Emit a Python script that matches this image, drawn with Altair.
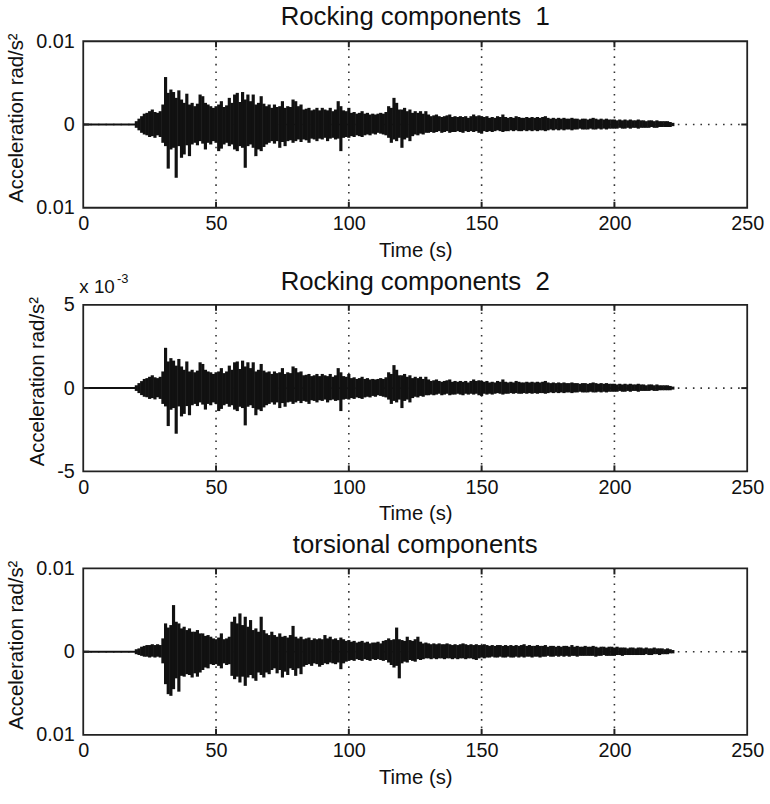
import altair as alt
import pandas as pd

FONT = "Liberation Sans"

# ---------------- data (values in units of 1e-3 rad/s^2) ----------------
time_s = list(range(20, 223))          # seconds, strong-motion part
quiet_start = [0]                      # quiet part before the event
quiet_end = [20]
x_ticks = [0, 50, 100, 150, 200, 250]
x_grid = [50, 100, 150, 200]
titles = ["Rocking components\u00a0 1", "Rocking components\u00a0 2", "torsional components"]

p1_upper = [
    0.4, 0.7, 1.0, 1.3, 1.4, 1.6, 1.8, 1.5, 1.4, 1.6,
    2.4, 5.7, 3.8, 4.2, 3.9, 3.2, 4.1, 3.0, 2.6, 3.7,
    2.4, 2.6, 2.2, 2.5, 3.6, 3.4, 2.6, 2.4, 2.2, 2.0,
    2.2, 2.4, 2.8, 2.1, 2.3, 3.2, 2.6, 3.6, 3.8, 2.7,
    3.9, 3.0, 3.6, 2.8, 3.6, 2.4, 2.6, 3.4, 2.5, 2.2,
    2.4, 2.0, 2.4, 2.1, 2.2, 2.8, 2.0, 2.2, 2.1, 3.0,
    2.8, 2.2, 2.4, 1.8, 1.9, 2.0, 1.7, 1.8, 2.0, 1.7,
    2.0, 1.8, 1.7, 2.0, 1.6, 1.8, 2.8, 2.2, 1.7, 1.6,
    2.0, 1.4, 1.5, 1.3, 1.4, 1.6, 1.3, 1.4, 1.2, 1.3,
    1.2, 1.3, 1.4, 1.3, 1.5, 2.2, 2.0, 3.2, 2.6, 1.8,
    1.8, 2.0, 1.6, 1.8, 1.4, 1.6, 1.4, 1.6, 1.3, 1.6,
    1.2, 1.0, 1.1, 1.2, 1.0, 0.9, 1.0, 1.1, 1.2, 0.9,
    1.0, 0.9, 1.0, 0.9, 1.0, 0.8, 1.0, 1.2, 1.0, 1.1,
    1.0, 0.9, 1.0, 0.8, 0.9, 0.8, 1.0, 0.9, 1.2, 0.9,
    0.8, 0.9, 0.8, 1.0, 0.9, 0.8, 0.8, 0.9, 0.8, 0.9,
    0.8, 0.9, 0.8, 0.9, 1.0, 0.8, 0.7, 0.8, 0.7, 0.8,
    0.7, 0.8, 0.7, 0.7, 0.8, 0.7, 0.7, 0.6, 0.7, 0.7,
    0.6, 0.7, 0.8, 0.7, 0.6, 0.7, 0.6, 0.7, 0.6, 0.6,
    0.6, 0.5, 0.6, 0.5, 0.6, 0.5, 0.6, 0.5, 0.5, 0.6,
    0.5, 0.5, 0.4, 0.5, 0.5, 0.4, 0.5, 0.4, 0.4, 0.4,
    0.4, 0.3, 0.2,
]
p1_lower = [
    -0.4, -0.7, -1.0, -1.2, -1.3, -1.5, -1.4, -1.6, -1.3, -1.5,
    -2.2, -2.6, -5.3, -3.0, -2.8, -6.4, -2.6, -4.0, -3.6, -2.5,
    -3.8, -2.4, -2.2, -2.5, -2.0, -2.3, -3.0, -2.2, -2.4, -2.0,
    -2.2, -3.2, -2.9, -2.4, -2.2, -2.6, -2.4, -3.0, -3.2, -2.6,
    -2.8, -5.2, -2.6, -2.4, -2.8, -3.8, -3.0, -3.2, -2.7, -2.4,
    -2.2, -2.0, -2.3, -2.0, -2.8, -2.1, -2.6, -2.0, -1.9, -2.2,
    -2.0, -1.8, -2.1, -1.8, -1.9, -2.2, -1.7, -1.8, -2.0, -1.7,
    -1.8, -1.6, -2.0, -1.7, -1.6, -1.8, -1.7, -3.2, -1.6, -1.5,
    -1.6, -1.4, -1.5, -1.3, -1.4, -1.5, -1.3, -1.2, -1.3, -1.1,
    -1.2, -1.0, -1.1, -1.2, -1.3, -1.6, -2.2, -1.8, -2.0, -1.6,
    -2.8, -1.8, -1.6, -2.0, -1.4, -1.2, -1.3, -1.1, -1.2, -1.0,
    -1.0, -0.9, -1.0, -0.9, -0.8, -1.0, -0.9, -0.8, -1.0, -0.9,
    -0.9, -0.8, -0.9, -1.0, -0.8, -0.9, -0.8, -0.9, -0.8, -1.0,
    -1.1, -0.8, -0.9, -0.8, -0.9, -0.8, -0.7, -0.8, -0.9, -0.8,
    -0.8, -0.7, -0.8, -0.7, -0.8, -0.8, -0.7, -0.8, -0.7, -0.8,
    -0.7, -0.8, -0.7, -0.7, -0.8, -0.7, -0.6, -0.7, -0.6, -0.7,
    -0.6, -0.7, -0.6, -0.6, -0.7, -0.6, -0.6, -0.5, -0.6, -0.6,
    -0.6, -0.5, -0.6, -0.6, -0.5, -0.6, -0.5, -0.6, -0.5, -0.5,
    -0.5, -0.5, -0.4, -0.5, -0.5, -0.4, -0.5, -0.4, -0.4, -0.5,
    -0.4, -0.4, -0.4, -0.4, -0.3, -0.4, -0.4, -0.3, -0.3, -0.3,
    -0.3, -0.3, -0.2,
]

p2_upper = [
    0.17, 0.3, 0.42, 0.55, 0.6, 0.68, 0.77, 0.65, 0.6, 0.68,
    1.0, 2.42, 1.6, 1.8, 1.65, 1.35, 1.75, 1.3, 1.1, 1.6,
    1.0, 1.1, 0.95, 1.05, 1.55, 1.45, 1.1, 1.0, 0.95, 0.85,
    0.95, 1.0, 1.2, 0.9, 1.0, 1.35, 1.1, 1.55, 1.6, 1.15,
    1.65, 1.3, 1.55, 1.2, 1.55, 1.0, 1.1, 1.45, 1.05, 0.95,
    1.0, 0.85, 1.0, 0.9, 0.95, 1.2, 0.85, 0.95, 0.9, 1.3,
    1.2, 0.95, 1.0, 0.77, 0.8, 0.85, 0.72, 0.77, 0.85, 0.72,
    0.85, 0.77, 0.72, 0.85, 0.68, 0.77, 1.2, 0.95, 0.72, 0.68,
    0.85, 0.6, 0.65, 0.55, 0.6, 0.68, 0.55, 0.6, 0.52, 0.55,
    0.52, 0.55, 0.6, 0.55, 0.65, 0.95, 0.85, 1.38, 1.1, 0.77,
    0.77, 0.85, 0.68, 0.77, 0.6, 0.68, 0.6, 0.68, 0.55, 0.68,
    0.52, 0.43, 0.47, 0.52, 0.43, 0.38, 0.43, 0.47, 0.52, 0.38,
    0.43, 0.38, 0.43, 0.38, 0.43, 0.34, 0.43, 0.52, 0.43, 0.47,
    0.43, 0.38, 0.43, 0.34, 0.38, 0.34, 0.43, 0.38, 0.52, 0.38,
    0.34, 0.38, 0.34, 0.43, 0.38, 0.34, 0.34, 0.38, 0.34, 0.38,
    0.34, 0.38, 0.34, 0.38, 0.43, 0.34, 0.3, 0.34, 0.3, 0.34,
    0.3, 0.34, 0.3, 0.3, 0.34, 0.3, 0.3, 0.26, 0.3, 0.3,
    0.26, 0.3, 0.34, 0.3, 0.26, 0.3, 0.26, 0.3, 0.26, 0.26,
    0.26, 0.22, 0.26, 0.22, 0.26, 0.22, 0.26, 0.22, 0.22, 0.26,
    0.22, 0.22, 0.17, 0.22, 0.22, 0.17, 0.22, 0.17, 0.17, 0.17,
    0.17, 0.13, 0.09,
]
p2_lower = [
    -0.17, -0.3, -0.42, -0.52, -0.55, -0.65, -0.6, -0.68, -0.55, -0.65,
    -0.95, -1.1, -2.28, -1.3, -1.2, -2.74, -1.1, -1.7, -1.55, -1.08,
    -1.63, -1.03, -0.95, -1.08, -0.86, -0.99, -1.29, -0.95, -1.03, -0.86,
    -0.95, -1.38, -1.25, -1.03, -0.95, -1.12, -1.03, -1.29, -1.38, -1.12,
    -1.2, -2.24, -1.12, -1.03, -1.2, -1.63, -1.29, -1.38, -1.16, -1.03,
    -0.95, -0.86, -0.99, -0.86, -1.2, -0.9, -1.12, -0.86, -0.82, -0.95,
    -0.86, -0.77, -0.9, -0.77, -0.82, -0.95, -0.73, -0.77, -0.86, -0.73,
    -0.77, -0.69, -0.86, -0.73, -0.69, -0.77, -0.73, -1.38, -0.69, -0.65,
    -0.69, -0.6, -0.65, -0.56, -0.6, -0.65, -0.56, -0.52, -0.56, -0.47,
    -0.52, -0.43, -0.47, -0.52, -0.56, -0.69, -0.95, -0.77, -0.86, -0.69,
    -1.2, -0.77, -0.69, -0.86, -0.6, -0.52, -0.56, -0.47, -0.52, -0.43,
    -0.43, -0.39, -0.43, -0.39, -0.34, -0.43, -0.39, -0.34, -0.43, -0.39,
    -0.39, -0.34, -0.39, -0.43, -0.34, -0.39, -0.34, -0.39, -0.34, -0.43,
    -0.47, -0.34, -0.39, -0.34, -0.39, -0.34, -0.3, -0.34, -0.39, -0.34,
    -0.34, -0.3, -0.34, -0.3, -0.34, -0.34, -0.3, -0.34, -0.3, -0.34,
    -0.3, -0.34, -0.3, -0.3, -0.34, -0.3, -0.26, -0.3, -0.26, -0.3,
    -0.26, -0.3, -0.26, -0.26, -0.3, -0.26, -0.26, -0.22, -0.26, -0.26,
    -0.26, -0.22, -0.26, -0.26, -0.22, -0.26, -0.22, -0.26, -0.22, -0.22,
    -0.22, -0.22, -0.17, -0.22, -0.22, -0.17, -0.22, -0.17, -0.17, -0.22,
    -0.17, -0.17, -0.17, -0.17, -0.13, -0.17, -0.17, -0.13, -0.13, -0.13,
    -0.13, -0.13, -0.09,
]

p3_upper = [
    0.3, 0.4, 0.6, 0.7, 0.8, 0.8, 0.9, 0.8, 0.9, 0.8,
    1.6, 3.4, 2.9, 3.2, 5.6, 3.6, 3.4, 2.8, 3.0, 2.6,
    2.8, 2.4, 2.4, 2.6, 2.2, 2.2, 1.9, 2.0, 1.8, 1.6,
    1.5, 1.7, 2.2, 1.5, 1.6, 1.8, 3.6, 4.2, 3.4, 4.6,
    3.2, 4.2, 3.0, 3.8, 2.6, 2.8, 2.4, 4.2, 2.6, 2.2,
    2.0, 2.4, 2.0, 1.8, 2.2, 1.8, 1.9, 1.7, 2.0, 3.1,
    1.8, 1.6, 1.8, 1.5, 1.6, 1.7, 1.4, 1.6, 1.5, 1.6,
    1.5, 2.0, 1.6, 1.8, 1.5, 1.6, 1.4, 1.7, 1.5, 1.3,
    1.4, 1.2, 1.3, 1.1, 1.2, 1.3, 1.1, 1.2, 1.0, 1.1,
    1.1, 1.2, 1.0, 1.3, 1.4, 1.6, 1.4, 1.5, 2.9, 1.5,
    1.4, 1.3, 1.8, 1.4, 1.3, 1.5, 1.8, 1.2, 1.0, 1.1,
    1.0, 0.9, 1.0, 0.9, 1.0, 0.9, 0.9, 1.0, 0.9, 0.8,
    0.9, 0.8, 0.9, 1.0, 0.9, 0.8, 0.9, 0.8, 0.9, 0.8,
    0.8, 0.9, 0.8, 0.7, 0.8, 0.7, 0.8, 0.8, 0.7, 0.8,
    0.7, 0.8, 0.7, 0.8, 0.7, 0.8, 0.9, 0.7, 0.8, 0.7,
    0.7, 0.8, 0.7, 0.7, 0.8, 0.6, 0.7, 0.7, 0.6, 0.7,
    0.6, 0.7, 0.7, 0.6, 0.8, 0.6, 0.7, 0.6, 0.6, 0.7,
    0.6, 0.6, 0.7, 0.6, 0.5, 0.6, 0.6, 0.5, 0.6, 0.6,
    0.5, 0.6, 0.5, 0.5, 0.5, 0.4, 0.5, 0.5, 0.4, 0.5,
    0.5, 0.4, 0.5, 0.4, 0.4, 0.5, 0.4, 0.4, 0.4, 0.3,
    0.4, 0.3, 0.2,
]
p3_lower = [
    -0.3, -0.4, -0.5, -0.6, -0.6, -0.7, -0.6, -0.7, -0.6, -0.7,
    -1.4, -3.9, -5.1, -5.3, -4.5, -3.2, -4.8, -2.9, -3.0, -2.7,
    -2.8, -3.1, -2.6, -3.0, -2.5, -2.2, -1.9, -2.0, -1.5, -1.6,
    -1.5, -1.7, -2.0, -1.4, -1.6, -1.5, -2.9, -3.3, -3.0, -3.7,
    -3.0, -4.1, -3.1, -2.8, -3.2, -3.5, -2.5, -2.8, -3.1, -2.5,
    -2.7, -2.2, -2.0, -2.6, -2.2, -3.1, -2.4, -2.8, -2.0, -2.2,
    -2.9, -2.0, -2.7, -1.8, -1.6, -1.5, -1.7, -1.4, -1.5, -1.8,
    -1.6, -1.4, -1.5, -1.3, -1.4, -1.5, -1.3, -2.1, -1.4, -1.2,
    -1.1, -1.0, -1.1, -0.9, -1.0, -1.1, -0.9, -1.0, -1.1, -0.9,
    -1.0, -0.9, -1.0, -1.1, -1.0, -1.3, -1.6, -1.9, -1.7, -3.2,
    -1.4, -1.2, -1.3, -1.0, -1.1, -1.2, -0.9, -1.0, -0.9, -0.8,
    -0.8, -0.9, -0.8, -0.9, -0.8, -0.8, -0.9, -0.8, -0.8, -0.9,
    -0.8, -0.9, -0.8, -0.8, -0.9, -0.8, -0.8, -0.9, -1.0, -0.8,
    -0.7, -0.8, -0.7, -0.7, -0.6, -0.7, -0.7, -0.6, -0.7, -0.7,
    -0.6, -0.7, -0.7, -0.6, -0.7, -0.6, -0.7, -0.6, -0.6, -0.7,
    -0.6, -0.6, -0.7, -0.6, -0.6, -0.5, -0.6, -0.6, -0.5, -0.6,
    -0.5, -0.6, -0.5, -0.6, -0.5, -0.5, -0.6, -0.5, -0.5, -0.5,
    -0.5, -0.5, -0.5, -0.6, -0.5, -0.5, -0.4, -0.5, -0.5, -0.5,
    -0.5, -0.4, -0.4, -0.5, -0.4, -0.4, -0.4, -0.4, -0.4, -0.4,
    -0.4, -0.4, -0.3, -0.4, -0.4, -0.3, -0.3, -0.4, -0.3, -0.3,
    -0.3, -0.2, -0.2,
]

W, H = 670, 168


def panel(title, upper, lower, ymax, label_expr, exponent=False, title_y=-16):
    sig = pd.DataFrame({"t": time_s, "hi": upper, "lo": lower})
    xscale = alt.Scale(domain=[0, 250], nice=False, zero=False)
    xaxis = alt.Axis(
        values=x_ticks, title="Time (s)", grid=False, ticks=False,
        domain=False, labelPadding=6, titlePadding=7,
        labelFlush=False, labelOverlap=False,
    )
    yscale = alt.Scale(domain=[-ymax, ymax], nice=False, zero=False)
    yaxis = alt.Axis(
        values=[-ymax, 0, ymax], labelExpr=label_expr,
        title="Acceleration rad/s²", grid=False, ticks=False, domain=False,
        labelPadding=9, titlePadding=9, labelFlush=False, labelOverlap=False,
        titleY=H / 2 - 7,
    )

    def X(field):
        return alt.X(field, scale=xscale, axis=xaxis)

    def Y(field):
        return alt.Y(field, scale=yscale, axis=yaxis)

    dots = dict(color="#333", strokeWidth=1.6, strokeDash=[1.6, 6])
    grid_v = alt.Chart(pd.DataFrame({"g": x_grid})).mark_rule(**dots).encode(x=X("g:Q"))
    grid_h = alt.Chart(pd.DataFrame({"z": [0]})).mark_rule(**dots).encode(y=Y("z:Q"))
    quiet = alt.Chart(pd.DataFrame({"a": quiet_start, "b": quiet_end, "z": [0]})).mark_rule(
        color="#111", strokeWidth=2
    ).encode(x=X("a:Q"), x2="b:Q", y=Y("z:Q"))
    signal = alt.Chart(sig).mark_rule(color="#111", strokeWidth=3.2).encode(
        x=X("t:Q"), y=Y("lo:Q"), y2="hi:Q",
    )
    tick_df = pd.DataFrame({"g": x_grid})
    tk = dict(color="#222", strokeWidth=2)
    ticks_top = alt.Chart(tick_df).mark_rule(**tk).encode(
        x=X("g:Q"), y=alt.value(0), y2=alt.value(6))
    ticks_bot = alt.Chart(tick_df).mark_rule(**tk).encode(
        x=X("g:Q"), y=alt.value(H - 6), y2=alt.value(H))
    z_df = pd.DataFrame({"z": [0]})
    ticks_l = alt.Chart(z_df).mark_rule(**tk).encode(
        y=Y("z:Q"), x=alt.value(0), x2=alt.value(6))
    ticks_r = alt.Chart(z_df).mark_rule(**tk).encode(
        y=Y("z:Q"), x=alt.value(W - 6), x2=alt.value(W))
    head = alt.Chart(pd.DataFrame({"s": [title]})).mark_text(
        align="center", baseline="alphabetic", fontSize=26, font=FONT, color="#111"
    ).encode(text="s:N", x=alt.value(W / 2), y=alt.value(title_y))
    layers = [grid_v, grid_h, quiet, signal, ticks_top, ticks_bot, ticks_l, ticks_r, head]
    if exponent:
        base = alt.Chart(pd.DataFrame({"s": ["x 10"]})).mark_text(
            align="left", baseline="alphabetic", fontSize=19, font=FONT, color="#111"
        ).encode(text="s:N", x=alt.value(-4), y=alt.value(-12))
        sup = alt.Chart(pd.DataFrame({"s": ["-3"]})).mark_text(
            align="left", baseline="alphabetic", fontSize=13, font=FONT, color="#111"
        ).encode(text="s:N", x=alt.value(34), y=alt.value(-22))
        layers += [base, sup]
    return alt.layer(*layers).properties(width=W, height=H)


c1 = panel(titles[0], p1_upper, p1_lower, 10,
           "datum.value == 0 ? '0' : '0.01'")
c2 = panel(titles[1], p2_upper, p2_lower, 5,
           "datum.value == 0 ? '0' : (datum.value > 0 ? '5' : '-5')",
           exponent=True, title_y=-15)
c3 = panel(titles[2], p3_upper, p3_lower, 10,
           "datum.value == 0 ? '0' : '0.01'")

chart = alt.vconcat(c1, c2, c3, spacing=98, bounds="flush").properties(
    padding={"left": 6, "top": 0, "right": 5, "bottom": 5},
    background="white",
).configure_view(
    stroke="#222", strokeWidth=1.8, fill="white"
).configure_axis(
    labelFont=FONT, titleFont=FONT, labelFontSize=20, titleFontSize=20.5,
    labelColor="#111", titleColor="#111", titleFontWeight="normal",
)

chart.save("out.html", embed_options={"renderer": "svg", "actions": False})
